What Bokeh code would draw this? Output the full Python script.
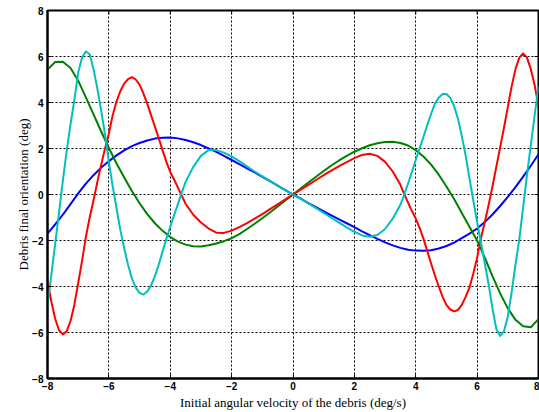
from bokeh.plotting import figure
from bokeh.models import Range1d, FixedTicker
from bokeh.embed import file_html
from bokeh.resources import INLINE

# ---------------- data ----------------
# sample positions for the slowly varying curves (deg/s)
omega = [-8.0, -7.75, -7.5, -7.25, -7.0, -6.75, -6.5, -6.25, -6.0, -5.75, -5.5, -5.25,
         -5.0, -4.75, -4.5, -4.25, -4.0, -3.75, -3.5, -3.25, -3.0, -2.75, -2.5, -2.25,
         -2.0, -1.75, -1.5, -1.25, -1.0, -0.75, -0.5, -0.25, 0.0, 0.25, 0.5, 0.75,
         1.0, 1.25, 1.5, 1.75, 2.0, 2.25, 2.5, 2.75, 3.0, 3.25, 3.5, 3.75,
         4.0, 4.25, 4.5, 4.75, 5.0, 5.25, 5.5, 5.75, 6.0, 6.25, 6.5, 6.75,
         7.0, 7.25, 7.5, 7.75, 8.0]

blue = [-1.70, -1.30, -0.88, -0.42, 0.05, 0.47, 0.84, 1.17, 1.45, 1.70, 1.92, 2.10,
        2.24, 2.35, 2.43, 2.47, 2.48, 2.44, 2.37, 2.27, 2.15, 2.00, 1.85, 1.68,
        1.50, 1.32, 1.14, 0.96, 0.77, 0.58, 0.39, 0.19, 0.00, -0.18, -0.37, -0.55,
        -0.73, -0.91, -1.08, -1.25, -1.42, -1.60, -1.77, -1.93, -2.08, -2.21, -2.32, -2.40,
        -2.44, -2.45, -2.42, -2.35, -2.24, -2.09, -1.90, -1.70, -1.48, -1.20, -0.87, -0.50,
        -0.10, 0.32, 0.78, 1.25, 1.75]

green = [5.43, 5.76, 5.77, 5.50, 4.95, 4.22, 3.48, 2.74, 2.02, 1.35, 0.74, 0.15,
         -0.38, -0.85, -1.25, -1.58, -1.85, -2.05, -2.18, -2.25, -2.26, -2.21, -2.13, -2.03,
         -1.90, -1.72, -1.50, -1.27, -1.03, -0.78, -0.52, -0.26, 0.00, 0.26, 0.52, 0.77,
         1.02, 1.26, 1.48, 1.68, 1.86, 2.01, 2.14, 2.23, 2.28, 2.29, 2.24, 2.13,
         1.93, 1.65, 1.30, 0.86, 0.35, -0.20, -0.80, -1.40, -2.00, -2.75, -3.55, -4.30,
         -4.95, -5.45, -5.73, -5.77, -5.42]

# finer sample positions for the fast oscillating curves (deg/s)
omega_fine = [-8.0, -7.875, -7.75, -7.625, -7.5, -7.375, -7.25, -7.125, -7.0, -6.875,
              -6.75, -6.625, -6.5, -6.375, -6.25, -6.125, -6.0, -5.875, -5.75, -5.625,
              -5.5, -5.375, -5.25, -5.125, -5.0, -4.875, -4.75, -4.625, -4.5, -4.375,
              -4.25, -4.125, -4.0, -3.875, -3.75, -3.625, -3.5,
              -3.25, -3.0, -2.75, -2.5, -2.25, -2.0, -1.75, -1.5, -1.25, -1.0, -0.75,
              -0.5, -0.25, 0.0, 0.25, 0.5, 0.75, 1.0, 1.25, 1.5, 1.75, 2.0, 2.25,
              2.5, 2.75, 3.0, 3.25,
              3.5, 3.625, 3.75, 3.875, 4.0, 4.125, 4.25, 4.375, 4.5, 4.625,
              4.75, 4.875, 5.0, 5.125, 5.25, 5.375, 5.5, 5.625, 5.75, 5.875,
              6.0, 6.125, 6.25, 6.375, 6.5, 6.625, 6.75, 6.875, 7.0, 7.125,
              7.25, 7.375, 7.5, 7.625, 7.75, 7.875, 8.0]

red = [-3.77, -4.65, -5.40, -5.90, -6.08, -5.95, -5.50, -4.80, -3.85, -2.90,
       -1.85, -1.00, -0.25, 0.55, 1.30, 2.00, 2.65, 3.45, 4.05, 4.50,
       4.82, 5.02, 5.10, 5.00, 4.78, 4.40, 3.95, 3.45, 2.95, 2.45,
       1.92, 1.42, 0.98, 0.65, 0.30, -0.05, -0.40,
       -0.88, -1.22, -1.48, -1.66, -1.67, -1.57, -1.42, -1.24, -1.05, -0.85, -0.64,
       -0.43, -0.21, 0.00, 0.21, 0.42, 0.63, 0.84, 1.04, 1.23, 1.41, 1.58, 1.72,
       1.77, 1.68, 1.42, 1.00,
       0.42, 0.02, -0.35, -0.72, -1.05, -1.45, -1.92, -2.45, -3.00, -3.52,
       -4.00, -4.45, -4.80, -5.00, -5.08, -5.02, -4.80, -4.45, -4.05, -3.45,
       -2.75, -1.90, -1.20, -0.45, 0.35, 1.20, 2.05, 2.90, 3.80, 4.70,
       5.45, 5.95, 6.13, 5.95, 5.45, 4.75, 3.85]

cyan = [-4.84, -3.50, -2.15, -0.80, 0.60, 1.90, 3.05, 4.10, 5.30, 5.95,
        6.22, 6.10, 5.45, 4.60, 3.65, 2.60, 1.40, 0.35, -0.60, -1.55,
        -2.35, -3.05, -3.65, -4.05, -4.28, -4.35, -4.22, -3.95, -3.55, -3.05,
        -2.48, -1.92, -1.40, -0.90, -0.42, 0.08, 0.55,
        1.20, 1.68, 1.93, 1.93, 1.82, 1.66, 1.45, 1.22, 1.00, 0.79, 0.59,
        0.39, 0.19, 0.00, -0.19, -0.39, -0.59, -0.80, -1.01, -1.22, -1.43, -1.62, -1.78,
        -1.84, -1.76, -1.50, -1.05,
        -0.45, 0.00, 0.48, 0.98, 1.50, 2.00, 2.50, 3.02, 3.50, 3.95,
        4.22, 4.37, 4.37, 4.20, 3.85, 3.30, 2.55, 1.70, 0.70, -0.25,
        -1.20, -2.10, -3.00, -3.90, -4.95, -5.85, -6.15, -5.95, -5.30, -4.25,
        -3.05, -1.95, -0.55, 0.85, 2.15, 3.45, 4.70]

x_ticks = [-8, -6, -4, -2, 0, 2, 4, 6, 8]
y_ticks = [-8, -6, -4, -2, 0, 2, 4, 6, 8]

x_label = "Initial angular velocity of the debris (deg/s)"
y_label = "Debris final orientation (deg)"

# ---------------- figure ----------------
W, H = 539, 412
B_LEFT, B_RIGHT, B_TOP, B_BOTTOM = 47, 1, 10, 32
X0, X1, Y0, Y1 = -8, 8, -8, 8

p = figure(width=W, height=H, output_backend="svg", toolbar_location=None,
           x_range=Range1d(X0, X1), y_range=Range1d(Y0, Y1),
           x_axis_label=x_label, y_axis_label=y_label,
           min_border_left=B_LEFT, min_border_right=B_RIGHT,
           min_border_top=B_TOP, min_border_bottom=B_BOTTOM)

p.background_fill_color = "white"
p.border_fill_color = "white"
p.outline_line_color = "black"
p.outline_line_width = 2

for ax in [p.xaxis[0], p.yaxis[0]]:
    ax.major_tick_in = 4
    ax.major_tick_out = 0
    ax.minor_tick_line_color = None
    ax.axis_line_width = 2
    ax.axis_line_color = "black"
    ax.major_tick_line_color = "black"
    ax.major_tick_line_width = 1
    ax.major_label_text_font = "Liberation Sans"
    ax.major_label_text_font_size = "10px"
    ax.major_label_text_font_style = "bold"
    ax.major_label_text_color = "black"
    ax.axis_label_text_font = "Liberation Serif"
    ax.axis_label_text_font_size = "13px"
    ax.axis_label_text_font_style = "normal"
    ax.axis_label_text_color = "black"

p.xaxis[0].ticker = FixedTicker(ticks=x_ticks)
p.yaxis[0].ticker = FixedTicker(ticks=y_ticks)
p.xaxis[0].major_label_standoff = 3
p.yaxis[0].major_label_standoff = 4
p.xaxis[0].axis_label_standoff = 2
p.yaxis[0].axis_label_standoff = -2

p.xgrid.ticker = FixedTicker(ticks=x_ticks)
p.ygrid.ticker = FixedTicker(ticks=y_ticks)
for g in [p.xgrid[0], p.ygrid[0]]:
    g.grid_line_color = "black"
    g.grid_line_dash = "2 2"
    g.grid_line_width = 1
    g.grid_line_alpha = 1.0

# inward ticks on the top and right edges of the box (4 px long)
frame_w = W - B_LEFT - B_RIGHT
frame_h = H - B_TOP - B_BOTTOM
tx = 4 * (X1 - X0) / frame_w
ty = 4 * (Y1 - Y0) / frame_h
p.segment(x0=x_ticks, y0=[Y1] * len(x_ticks), x1=x_ticks, y1=[Y1 - ty] * len(x_ticks),
          line_color="black", line_width=1)
p.segment(x0=[X1] * len(y_ticks), y0=y_ticks, x1=[X1 - tx] * len(y_ticks), y1=y_ticks,
          line_color="black", line_width=1)

p.line(omega, blue, line_color="#0000FF", line_width=2, line_join="round")
p.line(omega, green, line_color="#008000", line_width=2, line_join="round")
p.line(omega_fine, red, line_color="#FF0000", line_width=2, line_join="round")
p.line(omega_fine, cyan, line_color="#00BFBF", line_width=2, line_join="round")

open("out.html", "w").write(file_html(p, INLINE))
